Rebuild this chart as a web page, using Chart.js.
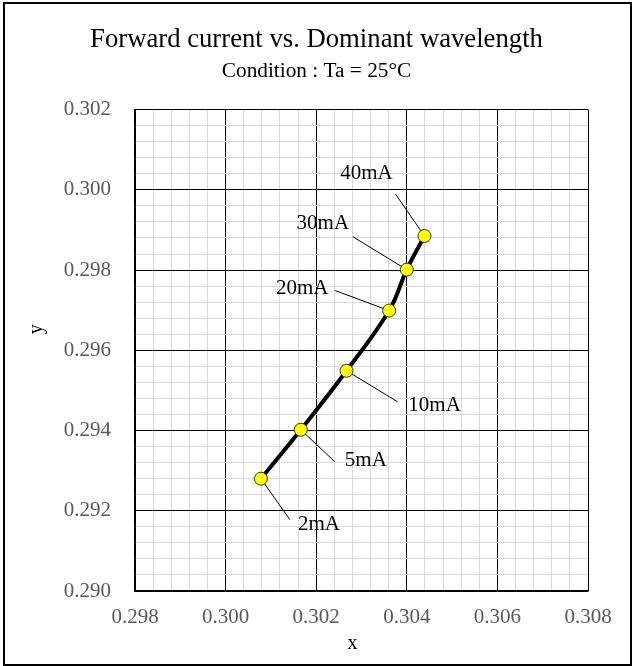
<!DOCTYPE html>
<html>
<head>
<meta charset="utf-8">
<script src="https://cdn.jsdelivr.net/npm/chart.js@4.4.1/dist/chart.umd.min.js"></script>
<style>
html, body { margin: 0; padding: 0; background: #fff; }
#wrap { position: relative; width: 633px; height: 666px; }
</style>
</head>
<body>
<div id="wrap"><canvas id="chart" width="633" height="666"></canvas></div>
<script>
// Forward current vs. chromaticity (x, y), Ta = 25°C
const currents = ['2mA', '5mA', '10mA', '20mA', '30mA', '40mA'];
const xValues = [0.30078, 0.30166, 0.30267, 0.30361, 0.30400, 0.30439];
const yValues = [0.29280, 0.29402, 0.29549, 0.29699, 0.29801, 0.29885];
const xTicks = [0.298, 0.300, 0.302, 0.304, 0.306, 0.308];
const yTicks = [0.290, 0.292, 0.294, 0.296, 0.298, 0.300, 0.302];
const minorDiv = 5;

// label placement relative to each point (px): text centre, leader end
const labelOffsets = [[58, 46], [65, 31], [88, 35], [-87, -22], [-84, -46], [-58, -62]];
const leaderEnds = [[29, 41], [34, 32], [51, 31], [-54, -20], [-54, -33], [-29, -42]];

const serif = 'Liberation Serif';

// major ticks plus minor subdivisions for the fine grid
function withMinor(majors) {
    const out = [];
    for (let i = 0; i < majors.length; i++) {
        out.push({ value: majors[i], isMajor: true });
        if (i < majors.length - 1) {
            const step = (majors[i + 1] - majors[i]) / minorDiv;
            for (let k = 1; k < minorDiv; k++) {
                out.push({ value: majors[i] + step * k, isMajor: false });
            }
        }
    }
    return out;
}

function gridColor(ctx) {
    return ctx.tick && ctx.tick.isMajor ? '#000000' : '#d9d9d9';
}

function tickLabel(value, index, ticks) {
    return ticks[index] && ticks[index].isMajor ? value.toFixed(3) : '';
}

// outer frame round the whole chart
const framePlugin = {
    id: 'frame',
    beforeDraw(chart) {
        const ctx = chart.ctx;
        ctx.save();
        ctx.fillStyle = '#fff';
        ctx.fillRect(0, 0, chart.width, chart.height);
        ctx.restore();
    },
    afterDraw(chart) {
        const ctx = chart.ctx;
        ctx.save();
        ctx.strokeStyle = '#000';
        ctx.lineWidth = 2;
        ctx.strokeRect(4, 3, 627, 662);
        ctx.restore();
    }
};

// axis titles, set a little off centre like the original
const axisTitlePlugin = {
    id: 'axisTitles',
    afterDraw(chart) {
        const { ctx, chartArea: a } = chart;
        const midX = (a.left + a.right) / 2;
        const midY = (a.top + a.bottom) / 2;
        ctx.save();
        ctx.font = '20px "' + serif + '"';
        ctx.fillStyle = '#000';
        ctx.textAlign = 'center';
        ctx.textBaseline = 'middle';
        ctx.fillText('x', midX - 9, a.bottom + 53);
        ctx.translate(a.left - 98, midY - 21);
        ctx.rotate(-Math.PI / 2);
        ctx.fillText('y', 0, 0);
        ctx.restore();
    }
};

// current labels with leader lines
const labelPlugin = {
    id: 'currentLabels',
    beforeDatasetsDraw(chart) {
        const ctx = chart.ctx;
        const meta = chart.getDatasetMeta(0);
        ctx.save();
        ctx.strokeStyle = '#000';
        ctx.lineWidth = 1;
        meta.data.forEach((pt, i) => {
            ctx.beginPath();
            ctx.moveTo(pt.x, pt.y);
            ctx.lineTo(pt.x + leaderEnds[i][0], pt.y + leaderEnds[i][1]);
            ctx.stroke();
        });
        ctx.font = '21px "' + serif + '"';
        ctx.fillStyle = '#000';
        ctx.textAlign = 'center';
        ctx.textBaseline = 'middle';
        meta.data.forEach((pt, i) => {
            ctx.fillText(currents[i], pt.x + labelOffsets[i][0], pt.y + labelOffsets[i][1]);
        });
        ctx.restore();
    }
};

new Chart(document.getElementById('chart'), {
    type: 'line',
    data: {
        datasets: [{
            data: xValues.map((x, i) => ({ x: x, y: yValues[i] })),
            borderColor: '#000',
            borderWidth: 4,
            tension: 0.4,
            fill: false,
            pointRadius: 6.5,
            pointBackgroundColor: '#ffff00',
            pointBorderColor: '#333',
            pointBorderWidth: 1
        }]
    },
    options: {
        responsive: false,
        animation: false,
        layout: { padding: 0 },
        plugins: {
            legend: { display: false },
            tooltip: { enabled: false },
            title: {
                display: true,
                text: 'Forward current vs. Dominant wavelength',
                color: '#000',
                font: { family: serif, size: 26.7, weight: 'normal' },
                padding: { top: 24, bottom: 0 }
            },
            subtitle: {
                display: true,
                text: 'Condition : Ta = 25°C',
                color: '#000',
                font: { family: serif, size: 21.3, weight: 'normal' },
                padding: { top: 3, bottom: 25 }
            }
        },
        scales: {
            x: {
                type: 'linear',
                min: xTicks[0],
                max: xTicks[xTicks.length - 1],
                afterBuildTicks: s => { s.ticks = withMinor(xTicks); },
                afterFit: s => { s.height = 75; },
                ticks: {
                    autoSkip: false,
                    maxRotation: 0,
                    padding: 14,
                    color: '#595959',
                    font: { family: serif, size: 21 },
                    callback: tickLabel
                },
                grid: { color: gridColor, lineWidth: 1, drawTicks: false },
                border: { display: true, color: '#000', width: 1.5 }
            },
            y: {
                type: 'linear',
                min: yTicks[0],
                max: yTicks[yTicks.length - 1],
                afterBuildTicks: s => { s.ticks = withMinor(yTicks); },
                afterFit: s => { s.width = 135; },
                ticks: {
                    autoSkip: false,
                    padding: 24,
                    color: '#595959',
                    font: { family: serif, size: 21 },
                    callback: tickLabel
                },
                grid: { color: gridColor, lineWidth: 1, drawTicks: false },
                border: { display: true, color: '#000', width: 1.5 }
            },
            yRight: {
                position: 'right',
                display: true,
                ticks: { display: false },
                grid: { display: false },
                border: { display: false },
                afterFit: s => { s.width = 45; }
            }
        }
    },
    plugins: [framePlugin, axisTitlePlugin, labelPlugin]
});
</script>
</body>
</html>
